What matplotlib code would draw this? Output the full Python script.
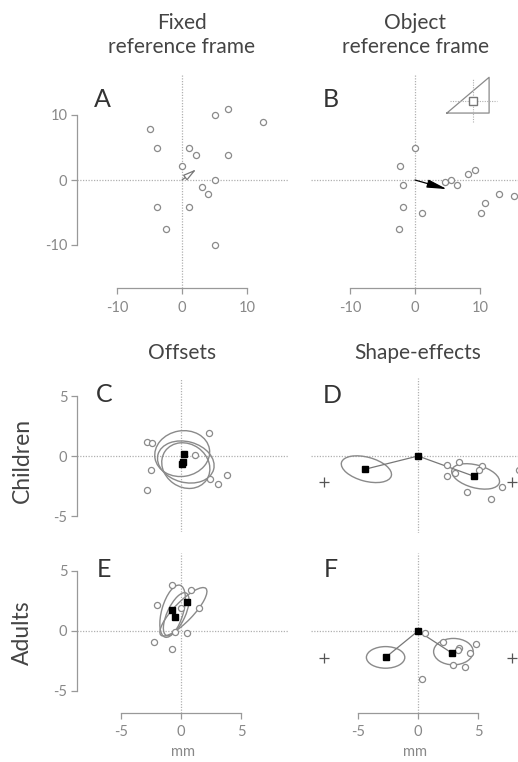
import matplotlib
matplotlib.use('Agg')
import matplotlib.pyplot as plt
from matplotlib.patches import Ellipse

FIG_W = 518
FIG_H = 762
DPI = 100

GREY = '#8a8a8a'
DOT = '#b0b0b0'
TEXT = '#444444'
TICK = '#888888'

# panel A: fixed reference frame, errors in mm
fixed_x = [-5.0, -3.9, 5.0, 7.1, 1.1, 2.1, 7.1, 0.0, 5.0, 3.0, 4.0, -3.9, 1.1, -2.4, 5.0, 12.5]
fixed_y = [7.9, 5.0, 10.0, 10.9, 5.0, 3.9, 3.9, 2.1, 0.0, -1.0, -2.1, -4.1, -4.1, -7.5, -10.0, 9.0]
fixed_mean = [2.2, 1.65]

# panel B: object reference frame
object_x = [0.0, -2.3, -1.8, -1.9, -2.5, 1.0, 4.6, 5.6, 6.5, 8.1, 9.3, 10.8, 10.1, 12.9, 15.2]
object_y = [5.0, 2.1, -0.8, -4.1, -7.5, -5.0, -0.3, 0.0, -0.8, 1.0, 1.5, -3.5, -5.0, -2.2, -2.5]
object_mean = [4.9, -1.4]
inset_tri_x = [4.9, 11.4, 11.4, 4.9]
inset_tri_y = [10.3, 10.3, 15.8, 10.3]
inset_centre = [8.9, 12.2]
inset_hline = [5.4, 12.6]
inset_vline = [8.9, 15.7]

# panel C: children offsets
child_off_x = [-2.8, -2.4, -2.5, -2.8, 2.3, 1.2, 2.4, 3.1, 3.8]
child_off_y = [1.2, 1.1, -1.2, -2.8, 1.9, 0.1, -1.9, -2.3, -1.6]
child_off_means_x = [0.25, 0.2, 0.1]
child_off_means_y = [0.2, -0.47, -0.7]
# centre x, centre y, width, height, angle
child_off_ell = [(0.1, 0.2, 4.6, 3.8, 10), (0.4, -0.5, 4.8, 3.4, -15), (0.4, -0.8, 4.2, 3.6, -35)]

# panel D: children shape effects
child_shape_x = [2.4, 3.4, 3.1, 2.4, 5.3, 5.1, 7.0, 4.1, 6.1, 8.4]
child_shape_y = [-0.75, -0.47, -1.44, -1.67, -0.83, -1.2, -2.56, -3.0, -3.6, -1.17]
child_shape_means_x = [-4.4, 0.0, 4.7]
child_shape_means_y = [-1.1, 0.0, -1.7]
child_shape_ell = [(-4.3, -1.1, 4.3, 2.0, -15), (4.8, -1.7, 4.1, 1.9, -15)]
child_cross_x = [-7.8, 7.8]
child_cross_y = [-2.2, -2.2]

# panel E: adult offsets
adult_off_x = [-0.78, -1.97, 0.8, 1.53, 0.0, -2.25, -0.78, -0.5, 0.53]
adult_off_y = [3.83, 2.17, 3.45, 1.94, 1.9, -0.9, -1.5, -0.05, -0.2]
adult_off_means_x = [0.47, -0.72, -0.5]
adult_off_means_y = [2.44, 1.75, 1.14]
adult_off_ell = [(0.2, 1.6, 5.4, 1.6, 46), (-0.7, 1.65, 4.5, 1.8, 74), (-0.4, 1.4, 3.9, 1.5, 65)]

# panel F: adult shape effects
adult_shape_x = [0.55, 2.05, 3.4, 3.36, 4.83, 4.3, 2.94, 3.9, 0.3]
adult_shape_y = [-0.2, -0.9, -1.45, -1.58, -1.1, -1.86, -2.8, -3.0, -4.0]
adult_shape_means_x = [-2.7, 0.0, 2.86]
adult_shape_means_y = [-2.2, 0.0, -1.86]
adult_shape_ell = [(-2.7, -2.2, 3.2, 1.8, 0), (2.95, -1.72, 3.3, 2.2, 0)]
adult_cross_x = [-7.8, 7.8]
adult_cross_y = [-2.25, -2.25]


def make_axes(fig, left, right, top, bottom, x0, y0, scale):
    """ place an axes by pixel box, with the data origin at (x0, y0) px """
    ax = fig.add_axes([left / FIG_W, 1 - bottom / FIG_H, (right - left) / FIG_W, (bottom - top) / FIG_H])
    ax.set_xlim((left - x0) / scale, (right - x0) / scale)
    ax.set_ylim((y0 - bottom) / scale, (y0 - top) / scale)
    ax.patch.set_alpha(0)
    for s in ax.spines.values():
        s.set_visible(False)
    ax.set_xticks([])
    ax.set_yticks([])
    ax.axhline(0, color=DOT, lw=0.9, ls=(0, (1, 1.2)), zorder=0)
    ax.axvline(0, color=DOT, lw=0.9, ls=(0, (1, 1.2)), zorder=0)
    return ax


def add_spine(ax, which, lim):
    ax.spines[which].set_visible(True)
    ax.spines[which].set_bounds(-lim, lim)
    ax.spines[which].set_color('#999999')
    ax.spines[which].set_linewidth(0.9)
    ticks = [-lim, 0, lim]
    if which == 'left':
        ax.set_yticks(ticks)
        ax.set_yticklabels([str(t) for t in ticks])
        ax.tick_params(axis='y', length=4, width=0.9, color='#999999', pad=3,
                       labelsize=10.5, labelcolor=TICK)
    else:
        ax.set_xticks(ticks)
        ax.set_xticklabels([str(t) for t in ticks])
        ax.tick_params(axis='x', length=4, width=0.9, color='#999999', pad=5,
                       labelsize=10.5, labelcolor=TICK)


def points(ax, x, y):
    ax.plot(x, y, 'o', ms=4.4, mfc='white', mec=GREY, mew=0.9, ls='none', zorder=3)


def ellipses(ax, ells):
    for cx, cy, w, h, a in ells:
        ax.add_patch(Ellipse((cx, cy), w, h, angle=a, fill=False, ec=GREY, lw=1.0, zorder=2))


def means(ax, x, y, joined=False):
    if joined:
        ax.plot(x, y, '-', color='#777777', lw=0.9, zorder=2)
    ax.plot(x, y, 's', ms=4.2, color='black', ls='none', zorder=4)


def letter(fig, s, xpx, ypx):
    fig.text(xpx / FIG_W, 1 - ypx / FIG_H, s, fontsize=18, color='#333333', ha='left', va='baseline')


def main():
    plt.rcParams['font.family'] = ['Lato', 'DejaVu Sans']
    fig = plt.figure(figsize=(FIG_W / DPI, FIG_H / DPI), dpi=DPI)

    # column and row headings
    fig.text(182 / FIG_W, 1 - 35 / FIG_H, 'Fixed\nreference frame', ha='center', va='center',
             fontsize=15, color=TEXT, linespacing=1.2)
    fig.text(415 / FIG_W, 1 - 35 / FIG_H, 'Object\nreference frame', ha='center', va='center',
             fontsize=15, color=TEXT, linespacing=1.2)
    fig.text(182 / FIG_W, 1 - 353 / FIG_H, 'Offsets', ha='center', va='center', fontsize=15, color=TEXT)
    fig.text(418 / FIG_W, 1 - 353 / FIG_H, 'Shape-effects', ha='center', va='center', fontsize=15, color=TEXT)
    fig.text(22 / FIG_W, 1 - 460 / FIG_H, 'Children', ha='center', va='center', rotation=90,
             fontsize=16.5, color=TEXT)
    fig.text(22 / FIG_W, 1 - 633 / FIG_H, 'Adults', ha='center', va='center', rotation=90,
             fontsize=16.5, color=TEXT)

    # A
    ax = make_axes(fig, 77, 288, 75, 288, 182, 180, 6.5)
    add_spine(ax, 'left', 10)
    add_spine(ax, 'bottom', 10)
    points(ax, fixed_x, fixed_y)
    ax.annotate('', xy=fixed_mean, xytext=(0, 0),
                arrowprops=dict(arrowstyle='-|>,head_length=0.8,head_width=0.2', fc='white',
                                ec='#777777', lw=0.9, shrinkA=0, shrinkB=0), zorder=5)
    letter(fig, 'A', 94, 107)

    # B
    ax = make_axes(fig, 311, 518, 75, 288, 415, 180, 6.5)
    add_spine(ax, 'bottom', 10)
    points(ax, object_x, object_y)
    ax.annotate('', xy=object_mean, xytext=(0, 0),
                arrowprops=dict(arrowstyle='-|>,head_length=1.2,head_width=0.25', fc='black',
                                ec='black', lw=0.9, shrinkA=0, shrinkB=0), zorder=5)
    ax.plot(inset_tri_x, inset_tri_y, '-', color=GREY, lw=0.9)
    ax.plot(inset_hline, [inset_centre[1]] * 2, color=DOT, lw=0.8, ls=(0, (1, 1.2)))
    ax.plot([inset_centre[0]] * 2, inset_vline, color=DOT, lw=0.8, ls=(0, (1, 1.2)))
    ax.plot(*inset_centre, 's', ms=5.5, mfc='white', mec='#777777', mew=1.0)
    letter(fig, 'B', 323, 107)

    # C
    ax = make_axes(fig, 77, 288, 378, 532, 181, 456, 12)
    add_spine(ax, 'left', 5)
    ellipses(ax, child_off_ell)
    points(ax, child_off_x, child_off_y)
    means(ax, child_off_means_x, child_off_means_y)
    letter(fig, 'C', 96, 402)

    # D
    ax = make_axes(fig, 311, 518, 378, 533, 418, 456, 12)
    ellipses(ax, child_shape_ell)
    points(ax, child_shape_x, child_shape_y)
    means(ax, child_shape_means_x, child_shape_means_y, joined=True)
    ax.plot(child_cross_x, child_cross_y, '+', ms=7, color='#555555', mew=0.9, ls='none')
    letter(fig, 'D', 323, 403)

    # E
    ax = make_axes(fig, 77, 288, 553, 713, 181, 631, 12)
    add_spine(ax, 'left', 5)
    add_spine(ax, 'bottom', 5)
    ax.set_xlabel('mm', fontsize=10.5, color=TICK, labelpad=4)
    ellipses(ax, adult_off_ell)
    points(ax, adult_off_x, adult_off_y)
    means(ax, adult_off_means_x, adult_off_means_y)
    letter(fig, 'E', 97, 577)

    # F
    ax = make_axes(fig, 311, 518, 553, 713, 418, 631, 12)
    add_spine(ax, 'bottom', 5)
    ax.set_xlabel('mm', fontsize=10.5, color=TICK, labelpad=4)
    ellipses(ax, adult_shape_ell)
    points(ax, adult_shape_x, adult_shape_y)
    means(ax, adult_shape_means_x, adult_shape_means_y, joined=True)
    ax.plot(adult_cross_x, adult_cross_y, '+', ms=7, color='#555555', mew=0.9, ls='none')
    letter(fig, 'F', 324, 577)

    fig.savefig('out.png', dpi=DPI)
    plt.close(fig)


if __name__ == '__main__':
    main()
